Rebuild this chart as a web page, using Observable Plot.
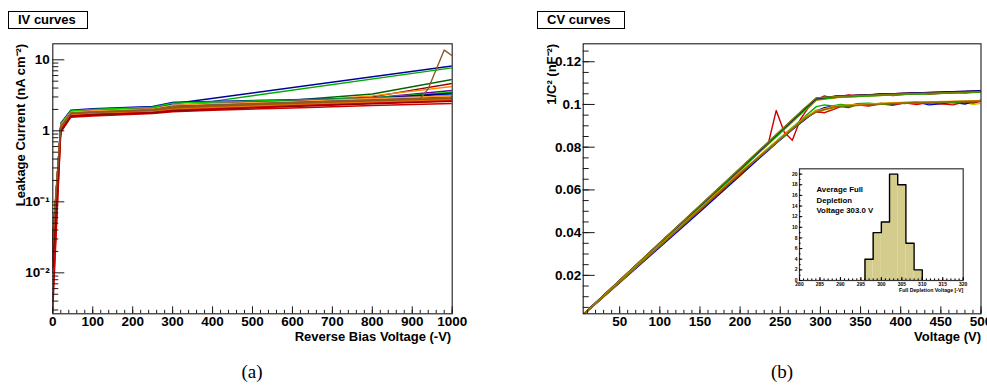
<!DOCTYPE html>
<html><head><meta charset="utf-8">
<script src="https://cdn.jsdelivr.net/npm/d3@7"></script>
<script src="https://cdn.jsdelivr.net/npm/@observablehq/plot@0.6"></script>
<style>
body{margin:0;background:#fff;width:987px;height:385px;overflow:hidden;position:relative;font-family:"Liberation Sans",Arial,sans-serif;}
.abs{position:absolute;}
.tbox{position:absolute;border:1px solid #000;font-weight:bold;font-size:13px;line-height:15px;box-sizing:border-box;padding-left:9px;white-space:nowrap;}
.cap{position:absolute;font-family:"Liberation Serif","Times New Roman",serif;font-size:19px;transform:translate(-50%,-50%);}
</style></head><body>
<div id="a" class="abs" style="left:0;top:0"></div>
<div id="b" class="abs" style="left:500px;top:0"></div>
<div id="inset" class="abs" style="left:770px;top:150px"></div>
<div class="tbox" style="left:8px;top:11px;width:80px;height:18px">IV curves</div>
<div class="tbox" style="left:537px;top:11px;width:88px;height:18px">CV curves</div>
<div class="cap" style="left:252px;top:372px">(a)</div>
<div class="cap" style="left:782px;top:372px">(b)</div>
<script>
// ---------------- IV data ----------------
const ivVolts = [0, 20, 45, 100, 250, 300, 400, 600, 800, 1000];
const ivColors = ["#000099","#00aa00","#006600","#990000","#ff8800","#660099","#cc0000","#0000cc","#00cc00","#000000",
  "#00aaaa","#000088","#dd44aa","#008800","#0000aa","#aa00aa","#ff9933","#808000","#cc6600","#996600",
  "#999900","#b36b00","#806000","#a05a00","#ee7700","#dd0000","#cc0000","#990000"];
const ivCurrents = [
  [0.028, 1.2, 1.88, 1.95, 2.1, 2.4, null, null, null, 8.2],
  [0.022, 1.15, 1.85, 1.92, 2.12, 2.5, 2.6, null, null, 7.7],
  [0.02, 1.1, 1.75, 1.83, 1.97, 2.2, 2.35, 2.7, 3.3, 5.3],
  [0.015, 1.05, 1.7, 1.77, 1.9, 2.1, 2.25, 2.5, 3.0, 4.65],
  [0.025, 1.1, 1.72, 1.8, 1.95, 2.15, 2.3, 2.6, 3.1, 4.2],
  [0.02, 1.12, 1.78, 1.85, 1.98, 2.2, 2.35, 2.55, 2.9, 3.7],
  [0.004, 0.98, 1.6, 1.66, 1.78, 1.9, 2.05, 2.3, 2.6, 3.4],
  [0.025, 1.28, 1.95, 2.05, 2.2, 2.5, 2.6, 2.75, 2.9, 3.3],
  [0.02, 1.25, 1.9, 2.0, 2.15, 2.45, 2.55, 2.7, 2.9, 3.5],
  [0.03, 1.18, 1.82, 1.9, 2.02, 2.25, 2.35, 2.55, 2.75, 3.05],
  [0.02, 1.1, 1.7, 1.78, 1.92, 2.08, 2.2, 2.4, 2.65, 3.2],
  [0.02, 1.18, 1.83, 1.9, 2.05, 2.28, 2.42, 2.62, 2.85, 3.4],
  [0.015, 1.08, 1.7, 1.76, 1.88, 2.05, 2.2, 2.45, 2.75, 3.05],
  [0.02, 1.12, 1.75, 1.82, 1.95, 2.15, 2.28, 2.45, 2.6, 2.85],
  [0.025, 1.15, 1.8, 1.88, 2.0, 2.2, 2.3, 2.5, 2.7, 3.0],
  [0.018, 1.1, 1.72, 1.8, 1.93, 2.1, 2.2, 2.4, 2.6, 2.9],
  [0.035, 1.2, 1.85, 1.92, 2.05, 2.3, 2.4, 2.6, 2.85, 3.1],
  [0.03, 1.15, 1.78, 1.85, 2.0, 2.18, 2.28, 2.45, 2.65, 2.9],
  [0.02, 1.05, 1.65, 1.72, 1.85, 1.98, 2.1, 2.3, 2.55, 2.75],
  [0.03, 1.1, 1.7, 1.78, 1.9, 2.05, 2.15, 2.35, 2.55, 2.8],
  [0.025, 1.08, 1.68, 1.75, 1.88, 2.02, 2.12, 2.3, 2.5, 2.7],
  [0.025, 1.12, 1.73, 1.8, 1.93, 2.12, 2.24, 2.44, 2.66, 2.92],
  [0.03, 1.12, 1.72, 1.8, 1.92, 2.1, 2.22, 2.42, 2.62, 2.85],
  [0.028, 1.1, 1.7, 1.77, 1.9, 2.08, 2.18, 2.38, 2.58, 2.78],
  [0.02, 1.06, 1.66, 1.74, 1.86, 2.0, 2.12, 2.32, 2.52, 2.72],
  [0.01, 1.02, 1.62, 1.7, 1.82, 1.95, 2.05, 2.25, 2.45, 2.65],
  [0.003, 0.95, 1.55, 1.62, 1.75, 1.85, 1.95, 2.1, 2.27, 2.43],
  [0.012, 1.0, 1.6, 1.68, 1.8, 1.9, 2.0, 2.2, 2.4, 2.6]
];
const ivSpikeVolts = [0, 20, 45, 100, 250, 300, 400, 600, 800, 920, 940, 980, 1000];
const ivSpikeCurrent = [0.03, 1.12, 1.75, 1.82, 1.95, 2.15, 2.3, 2.5, 2.7, 2.85, 3.9, 13.7, 11.4];
const ivSpikeColor = "#8b5a2b";
const ivXTicks = [0, 100, 200, 300, 400, 500, 600, 700, 800, 900, 1000];
const ivYTicks = [0.01, 0.1, 1, 10];
const ivYTickLabels = ["10\u207B\u00B2", "10\u207B\u00B9", "1", "10"];
const ivXLabel = "Reverse Bias Voltage (-V)";
const ivYLabel = "Leakage Current (nA cm\u207B\u00B2)";

// ---------------- CV data ----------------
const cvVolts = [5, 100, 200, 280, 295, 320, 400, 500];
const cvColors = ["#999900","#996600","#006600","#ff9900","#000000","#cc0000","#00aa00","#000099","#808000",
  "#999900","#00aa00","#ff9900","#996600"];
const cvValues = [
  [0.0018, 0.0350, 0.0698, 0.0978, 0.1027, 0.1036, 0.1049, 0.1061],
  [0.0019, 0.0352, 0.0700, 0.0980, 0.1030, 0.1038, 0.1051, 0.1062],
  [0.0017, 0.0347, 0.0694, 0.0974, 0.1023, 0.1034, 0.1047, 0.1059],
  [0.0018, 0.0346, 0.0692, 0.0970, 0.1020, 0.1032, 0.1046, 0.1058],
  [0.0019, 0.0351, 0.0697, 0.0977, 0.1026, 0.1037, 0.1050, 0.1060],
  [0.0018, 0.0349, 0.0696, 0.0976, 0.1024, 0.1040, 0.1052, 0.1063],
  [0.0018, 0.0348, 0.0693, 0.0972, 0.1022, 0.1033, 0.1046, 0.1057],
  [0.0019, 0.0350, 0.0699, 0.0979, 0.1028, 0.1039, 0.1052, 0.1064],
  [0.0018, 0.0353, 0.0702, 0.0982, 0.1031, 0.1037, 0.1049, 0.1060],
  [0.0017, 0.0340, 0.0680, 0.0935, 0.0968, 0.0992, 0.1008, 0.1017],
  [0.0016, 0.0338, 0.0678, 0.0932, 0.0965, 0.0990, 0.1006, 0.1015],
  [0.0017, 0.0342, 0.0683, 0.0938, 0.0970, 0.0994, 0.1009, 0.1018],
  [0.0017, 0.0339, 0.0679, 0.0934, 0.0966, 0.0991, 0.1007, 0.1016]
];
const cvNoisyVolts = [5, 50, 100, 150, 200, 225, 235, 245, 255, 265, 275, 285, 295, 305, 315, 325, 335, 345, 360, 375, 390, 405, 420, 435, 450, 465, 480, 490, 500];
const cvNoisyColors = ["#cccc00", "#0000cc", "#00aa00", "#dd0000", "#cc0000"];
const cvNoisyValues = [
  [0.0017, 0.0166, 0.0334, 0.0500, 0.0665, 0.0755, 0.0788, 0.0820, 0.0852, 0.0884, 0.0916, 0.0948, 0.0975, 0.0960, 0.0982, 0.0995, 0.0990, 0.1002, 0.1000, 0.1006, 0.1004, 0.1009, 0.1007, 0.1011, 0.1008, 0.1012, 0.1010, 0.1000, 0.1006],
  [0.0016, 0.0165, 0.0332, 0.0498, 0.0668, 0.0752, 0.0785, 0.0818, 0.0850, 0.0882, 0.0912, 0.0942, 0.0970, 0.0985, 0.0992, 0.0990, 0.0995, 0.1000, 0.0996, 0.1005, 0.1001, 0.1007, 0.1012, 0.0998, 0.1003, 0.1010, 0.1002, 0.1012, 0.1020],
  [0.0017, 0.0169, 0.0339, 0.0506, 0.0674, 0.0762, 0.0795, 0.0828, 0.0860, 0.0892, 0.0925, 0.0958, 0.0990, 0.0998, 0.0993, 0.1000, 0.0996, 0.1003, 0.1006, 0.1001, 0.1008, 0.1004, 0.1010, 0.1006, 0.1012, 0.1008, 0.1013, 0.1010, 0.1016],
  [0.0017, 0.0168, 0.0338, 0.0505, 0.0672, 0.0760, 0.0790, 0.0822, 0.0855, 0.0885, 0.0915, 0.0945, 0.0965, 0.0962, 0.0975, 0.0990, 0.0985, 0.0998, 0.0992, 0.1003, 0.0996, 0.1008, 0.1000, 0.1010, 0.1003, 0.0998, 0.1012, 0.1006, 0.1015],
  [0.0018, 0.0175, 0.0345, 0.0520, 0.0690, 0.0785, 0.0815, 0.0972, 0.0870, 0.0833, 0.0930, 0.0985, 0.1022, 0.1040, 0.1030, 0.1036, 0.1045, 0.1038, 0.1043, 0.1050, 0.1042, 0.1048, 0.1055, 0.1047, 0.1052, 0.1060, 0.1053, 0.1058, 0.1062]
];
const cvXTicks = [50, 100, 150, 200, 250, 300, 350, 400, 450, 500];
const cvYTicks = [0.02, 0.04, 0.06, 0.08, 0.1, 0.12];
const cvYTickLabels = ["0.02", "0.04", "0.06", "0.08", "0.1", "0.12"];
const cvXLabel = "Voltage (V)";
const cvYLabel = "1/C\u00B2 (nF\u207B\u00B2)";

// ---------------- inset histogram ----------------
const binEdges = [296, 298, 300, 302, 304, 306, 308, 310];
const binCounts = [4, 9, 11, 20, 18, 7, 2];
const insetXTicks = [280, 285, 290, 295, 300, 305, 310, 315, 320];
const insetYTicks = [0, 2, 4, 6, 8, 10, 12, 14, 16, 18, 20];
const insetNote = "Average Full\nDepletion\nVoltage 303.0 V";
const insetXLabel = "Full Depletion Voltage [-V]";

// ---------------- build tables ----------------
const ivRows = [];
ivCurrents.forEach((arr, k) => arr.forEach((c, j) => { if (c != null) ivRows.push({id: k, v: ivVolts[j], c, color: ivColors[k]}); }));
ivSpikeCurrent.forEach((c, j) => ivRows.push({id: "spike", v: ivSpikeVolts[j], c, color: ivSpikeColor}));

const cvRows = [];
cvNoisyValues.forEach((arr, k) => arr.forEach((c, j) => cvRows.push({id: "n" + k, v: cvNoisyVolts[j], c, color: cvNoisyColors[k]})));
cvValues.forEach((arr, k) => arr.forEach((c, j) => cvRows.push({id: "s" + k, v: cvVolts[j], c, color: cvColors[k]})));

const font = "'Liberation Sans', Arial, Helvetica, sans-serif";
const frameCol = "#1a1a1a";

// ---------------- panel (a) ----------------
{
  const W = 470, H = 350, ml = 52.3, mr = 18.3, mt = 43.3, mb = 36.7;
  const iw = W - ml - mr, ih = H - mt - mb;
  const xMinor = d3.range(0, 1001, 20);
  const yMinor = [];
  [0.001, 0.01, 0.1, 1].forEach(dec => { for (let m = 2; m <= 9; m++) { const v = +(dec * m).toPrecision(3); if (v >= 0.00265 && v <= 16.8) yMinor.push(v); } });
  const yLab = new Map(ivYTicks.map((t, i) => [t, ivYTickLabels[i]]));
  const p = Plot.plot({
    width: W, height: H, marginLeft: ml, marginRight: mr, marginTop: mt, marginBottom: mb,
    style: {fontFamily: font, fontWeight: "bold", fontSize: "13.5px", background: "transparent", overflow: "visible"},
    x: {domain: [0, 1000]},
    y: {type: "log", domain: [0.00265, 16.8]},
    color: {type: "identity"},
    marks: [
      Plot.line(ivRows, {x: "v", y: "c", z: "id", stroke: "color", strokeWidth: 1.4, clip: true}),
      Plot.frame({stroke: frameCol, strokeWidth: 1.1}),
      Plot.tickX(xMinor, {x: d => d, insetTop: ih - 3.5, stroke: frameCol}),
      Plot.tickX(ivXTicks, {x: d => d, insetTop: ih - 7, stroke: frameCol}),
      Plot.tickY(yMinor, {y: d => d, insetRight: iw - 6, stroke: frameCol}),
      Plot.tickY(ivYTicks, {y: d => d, insetRight: iw - 12, stroke: frameCol}),
      Plot.axisX({ticks: ivXTicks, tickSize: 0, tickPadding: 3, tickFormat: d => String(d), label: null}),
      Plot.axisY({ticks: ivYTicks, tickSize: 0, tickPadding: 3, tickFormat: d => yLab.get(d), label: null}),
      Plot.text([ivXLabel], {text: d => d, frameAnchor: "bottom-right", textAnchor: "end", dy: 26.7, dx: -1, fontSize: 13}),
      Plot.text([ivYLabel], {text: d => d, frameAnchor: "top-left", rotate: -90, textAnchor: "end", dx: -36.8, fontSize: 13})
    ]
  });
  document.getElementById("a").append(p);
}

// ---------------- panel (b) ----------------
{
  const W = 487, H = 350, ml = 82.7, mr = 6.5, mt = 43.3, mb = 36.7;
  const iw = W - ml - mr, ih = H - mt - mb;
  const xMinor = d3.range(10, 501, 10);
  const yMinor = d3.range(0.005, 0.128, 0.005);
  const yLab = new Map(cvYTicks.map((t, i) => [t, cvYTickLabels[i]]));
  const p = Plot.plot({
    width: W, height: H, marginLeft: ml, marginRight: mr, marginTop: mt, marginBottom: mb,
    style: {fontFamily: font, fontWeight: "bold", fontSize: "13.5px", background: "transparent", overflow: "visible"},
    x: {domain: [4.6, 500]},
    y: {domain: [0.002, 0.1284]},
    color: {type: "identity"},
    marks: [
      Plot.line(cvRows, {x: "v", y: "c", z: "id", stroke: "color", strokeWidth: 1.4, clip: true}),
      Plot.frame({stroke: frameCol, strokeWidth: 1.1}),
      Plot.tickX(xMinor, {x: d => d, insetTop: ih - 3.5, stroke: frameCol}),
      Plot.tickX(cvXTicks, {x: d => d, insetTop: ih - 7, stroke: frameCol}),
      Plot.tickY(yMinor, {y: d => d, insetRight: iw - 6, stroke: frameCol}),
      Plot.tickY(cvYTicks, {y: d => d, insetRight: iw - 12, stroke: frameCol}),
      Plot.axisX({ticks: cvXTicks, tickSize: 0, tickPadding: 3, tickFormat: d => String(d), label: null}),
      Plot.axisY({ticks: cvYTicks, tickSize: 0, tickPadding: 2, tickFormat: d => yLab.get(d), label: null}),
      Plot.text([cvXLabel], {text: d => d, frameAnchor: "bottom-right", textAnchor: "end", dy: 26.7, dx: 0, fontSize: 13}),
      Plot.text([cvYLabel], {text: d => d, frameAnchor: "top-left", rotate: -90, textAnchor: "end", dx: -36.5, fontSize: 13})
    ]
  });
  document.getElementById("b").append(p);
}

// ---------------- inset ----------------
{
  const W = 200, H = 150, ml = 29, mr = 7.3, mt = 18.3, mb = 20;
  const iw = W - ml - mr, ih = H - mt - mb;
  const bars = binCounts.map((n, i) => ({x1: binEdges[i], x2: binEdges[i + 1], n}));
  const outline = [{x: binEdges[0], y: 0}, ...bars.map(b => ({x: b.x1, y: b.n})), {x: binEdges[binEdges.length - 1], y: 0}];
  const p = Plot.plot({
    width: W, height: H, marginLeft: ml, marginRight: mr, marginTop: mt, marginBottom: mb,
    style: {fontFamily: font, fontWeight: "bold", fontSize: "5px", background: "transparent", overflow: "visible"},
    x: {domain: [280, 320]},
    y: {domain: [0, 21]},
    marks: [
      Plot.rectY(bars, {x1: "x1", x2: "x2", y: "n", fill: "#d4cc8c"}),
      Plot.line(outline, {x: "x", y: "y", curve: "step-after", stroke: "#000", strokeWidth: 1.4}),
      Plot.frame({stroke: "#333", strokeWidth: 1.2}),
      Plot.tickX(d3.range(280, 321, 1), {x: d => d, insetTop: ih - 1.6, stroke: "#000"}),
      Plot.tickX(insetXTicks, {x: d => d, insetTop: ih - 3, stroke: "#000"}),
      Plot.tickY(d3.range(0, 21, 1), {y: d => d, insetRight: iw - 1.6, stroke: "#000"}),
      Plot.tickY(insetYTicks, {y: d => d, insetRight: iw - 3.3, stroke: "#000"}),
      Plot.axisX({ticks: insetXTicks, tickSize: 0, tickPadding: 2.2, tickFormat: d => String(d), label: null, fontSize: 5}),
      Plot.axisY({ticks: insetYTicks, tickSize: 0, tickPadding: 2, tickFormat: d => String(d), label: null, fontSize: 5}),
      Plot.text([insetNote], {text: d => d, frameAnchor: "top-left", textAnchor: "start", lineAnchor: "top", dx: 17, dy: 16, fontSize: 7.8, lineHeight: 1.35}),
      Plot.text([insetXLabel], {text: d => d, frameAnchor: "bottom-right", textAnchor: "end", dy: 11.5, fontSize: 5.2})
    ]
  });
  document.getElementById("inset").append(p);
}
</script>
</body></html>
